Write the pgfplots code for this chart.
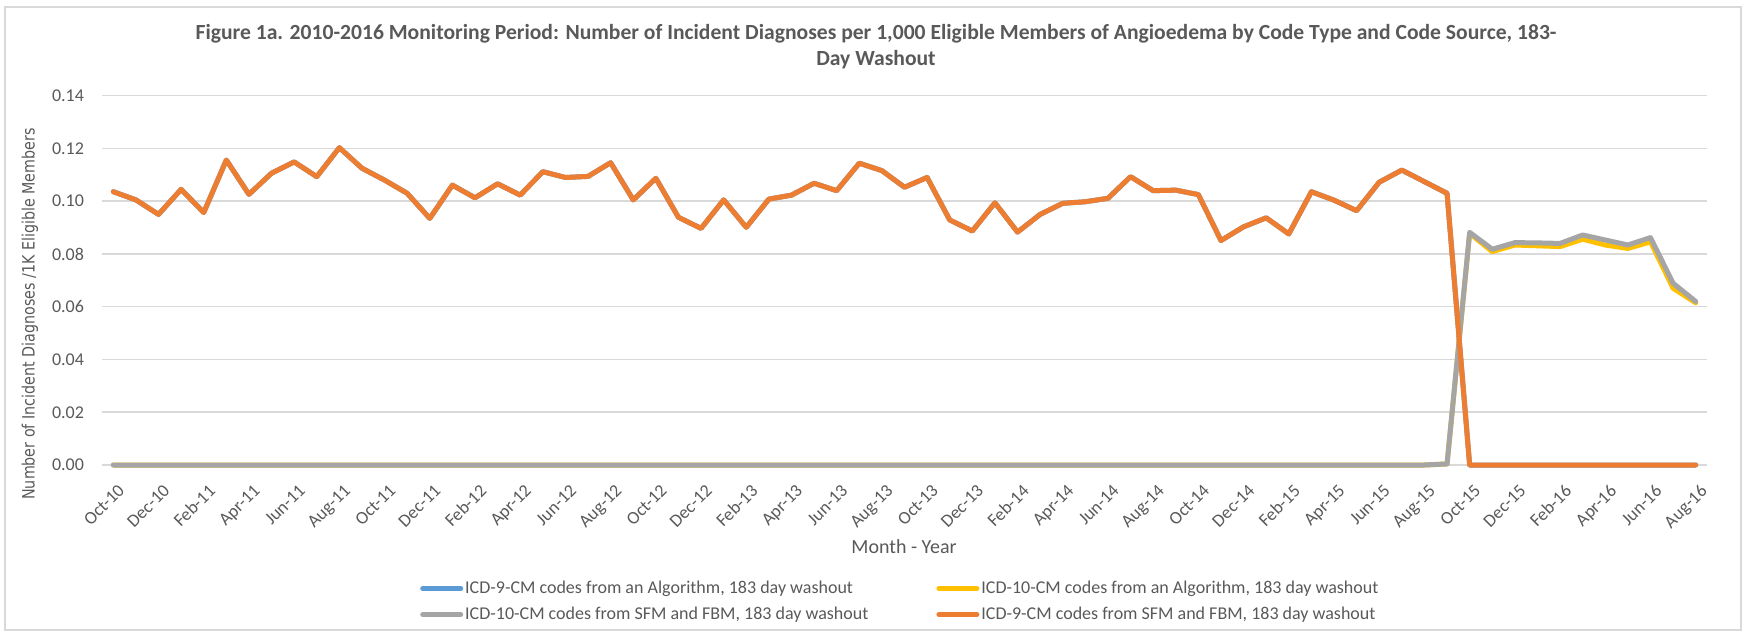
\documentclass[border=0pt]{standalone}
\usepackage{pgfplots}
\pgfplotsset{compat=1.18}
\usepackage{pgfplotstable}
\usepackage{fontspec}
\setmainfont{Carlito}
\newfontfamily\dejavu[FakeStretch=0.84]{DejaVu Sans}
\definecolor{cblue}{HTML}{5B9BD5}
\definecolor{cyellow}{HTML}{FFC000}
\definecolor{cgray}{HTML}{A5A5A5}
\definecolor{corange}{HTML}{ED7D31}
\definecolor{txt}{HTML}{595959}
\definecolor{gridc}{HTML}{D9D9D9}

\pgfplotstableread{
x blue yellow gray orange
0 0.1036 0 0 0.1036
1 0.1005 0 0 0.1005
2 0.0950 0 0 0.0950
3 0.1045 0 0 0.1045
4 0.0957 0 0 0.0957
5 0.1156 0 0 0.1156
6 0.1026 0 0 0.1026
7 0.1106 0 0 0.1106
8 0.1149 0 0 0.1149
9 0.1093 0 0 0.1093
10 0.1203 0 0 0.1203
11 0.1125 0 0 0.1125
12 0.1080 0 0 0.1080
13 0.1030 0 0 0.1030
14 0.0935 0 0 0.0935
15 0.1061 0 0 0.1061
16 0.1013 0 0 0.1013
17 0.1066 0 0 0.1066
18 0.1023 0 0 0.1023
19 0.1112 0 0 0.1112
20 0.1090 0 0 0.1090
21 0.1094 0 0 0.1094
22 0.1146 0 0 0.1146
23 0.1005 0 0 0.1005
24 0.1087 0 0 0.1087
25 0.0939 0 0 0.0939
26 0.0897 0 0 0.0897
27 0.1005 0 0 0.1005
28 0.0901 0 0 0.0901
29 0.1008 0 0 0.1008
30 0.1023 0 0 0.1023
31 0.1068 0 0 0.1068
32 0.1040 0 0 0.1040
33 0.1144 0 0 0.1144
34 0.1116 0 0 0.1116
35 0.1053 0 0 0.1053
36 0.1090 0 0 0.1090
37 0.0929 0 0 0.0929
38 0.0887 0 0 0.0887
39 0.0994 0 0 0.0994
40 0.0883 0 0 0.0883
41 0.0950 0 0 0.0950
42 0.0992 0 0 0.0992
43 0.0998 0 0 0.0998
44 0.1011 0 0 0.1011
45 0.1093 0 0 0.1093
46 0.1040 0 0 0.1040
47 0.1042 0 0 0.1042
48 0.1025 0 0 0.1025
49 0.0851 0 0 0.0851
50 0.0903 0 0 0.0903
51 0.0937 0 0 0.0937
52 0.0876 0 0 0.0876
53 0.1036 0 0 0.1036
54 0.1004 0 0 0.1004
55 0.0964 0 0 0.0964
56 0.1072 0 0 0.1072
57 0.1118 0 0 0.1118
58 0.1074 0 0 0.1074
59 0.1030 0.0004 0.0004 0.1030
60 0 0.0878 0.0882 0
61 0 0.0809 0.0818 0
62 0 0.0834 0.0843 0
63 0 0.0831 0.0842 0
64 0 0.0828 0.0840 0
65 0 0.0856 0.0872 0
66 0 0.0834 0.0853 0
67 0 0.0821 0.0834 0
68 0 0.0846 0.0862 0
69 0 0.0670 0.0689 0
70 0 0.0615 0.0620 0
}\data

\begin{document}
\begin{tikzpicture}
\path[use as bounding box] (-51pt,-86pt) rectangle (821pt,232.5pt);
\draw[gridc, line width=0.6pt] (-48.5pt,-82.5pt) rectangle (819.5pt,229pt);
\begin{axis}[
  at={(0pt,0pt)}, anchor=south west,
  scale only axis, width=802.5pt, height=184.65pt,
  xmin=-0.5, xmax=70.5, ymin=0, ymax=0.14,
  clip=false,
  xtick={0,2,...,70},
  xticklabels={Oct-10,Dec-10,Feb-11,Apr-11,Jun-11,Aug-11,Oct-11,Dec-11,Feb-12,Apr-12,Jun-12,Aug-12,Oct-12,Dec-12,Feb-13,Apr-13,Jun-13,Aug-13,Oct-13,Dec-13,Feb-14,Apr-14,Jun-14,Aug-14,Oct-14,Dec-14,Feb-15,Apr-15,Jun-15,Aug-15,Oct-15,Dec-15,Feb-16,Apr-16,Jun-16,Aug-16},
  ytick={0,0.02,0.04,0.06,0.08,0.1,0.12,0.14},
  ymajorgrids,
  major grid style={gridc, line width=0.75pt},
  axis line style={draw=none},
  tick style={draw=none},
  x tick label style={xshift=1.85pt, yshift=-9pt, rotate=45, anchor=north east, inner sep=0pt, font=\fontsize{9}{10}\selectfont, text=txt},
  y tick label style={font=\fontsize{9}{10}\selectfont, text=txt, xshift=-5.5pt},
  yticklabel style={/pgf/number format/.cd, fixed, fixed zerofill, precision=2, assume math mode=true},
  legend columns=2,
  legend cell align=left,
  legend image code/.code={\draw[#1, line width=2.5pt] (0pt,0pt) -- (19pt,0pt);},
  legend style={at={(axis description cs:0.198,-0.305)}, anchor=north west, draw=none, fill=none, inner sep=0pt,
    font=\fontsize{9}{10}\selectfont, text=txt,
    /tikz/every even column/.append style={column sep=33pt},
    row sep=2.5pt,
    nodes={inner sep=1pt, text height=6.5pt, text depth=2pt}},
  every axis plot/.append style={line width=2.5pt, line join=round, line cap=round},
]
\addplot[cblue] table[x=x, y=blue] {\data};
\addlegendentry{ICD-9-CM codes from an Algorithm, 183 day washout}
\addplot[cyellow] table[x=x, y=yellow] {\data};
\addlegendentry{ICD-10-CM codes from an Algorithm, 183 day washout}
\addplot[cgray] table[x=x, y=gray] {\data};
\addlegendentry{ICD-10-CM codes from SFM and FBM, 183 day washout}
\addplot[corange] table[x=x, y=orange] {\data};
\addlegendentry{ICD-9-CM codes from SFM and FBM, 183 day washout}
\end{axis}
\node[anchor=base, text=txt, font=\fontsize{10.8}{13}\selectfont\bfseries] at (387pt,212.8pt) {Figure 1a. 2010-2016 Monitoring Period: Number of Incident Diagnoses per 1,000 Eligible Members of Angioedema by Code Type and Code Source, 183-};
\node[anchor=base, text=txt, font=\fontsize{10.8}{13}\selectfont\bfseries] at (387pt,199.8pt) {Day Washout};
\node[text=txt, font=\fontsize{10}{12}\selectfont, inner sep=0pt] at (401pt,-41pt) {Month - Year};
\node[text=txt, font=\dejavu\fontsize{8.5}{10}\selectfont, rotate=90, inner sep=0pt] at (-36pt,75.5pt) {Number of Incident Diagnoses /1K Eligible Members};
\end{tikzpicture}
\end{document}
